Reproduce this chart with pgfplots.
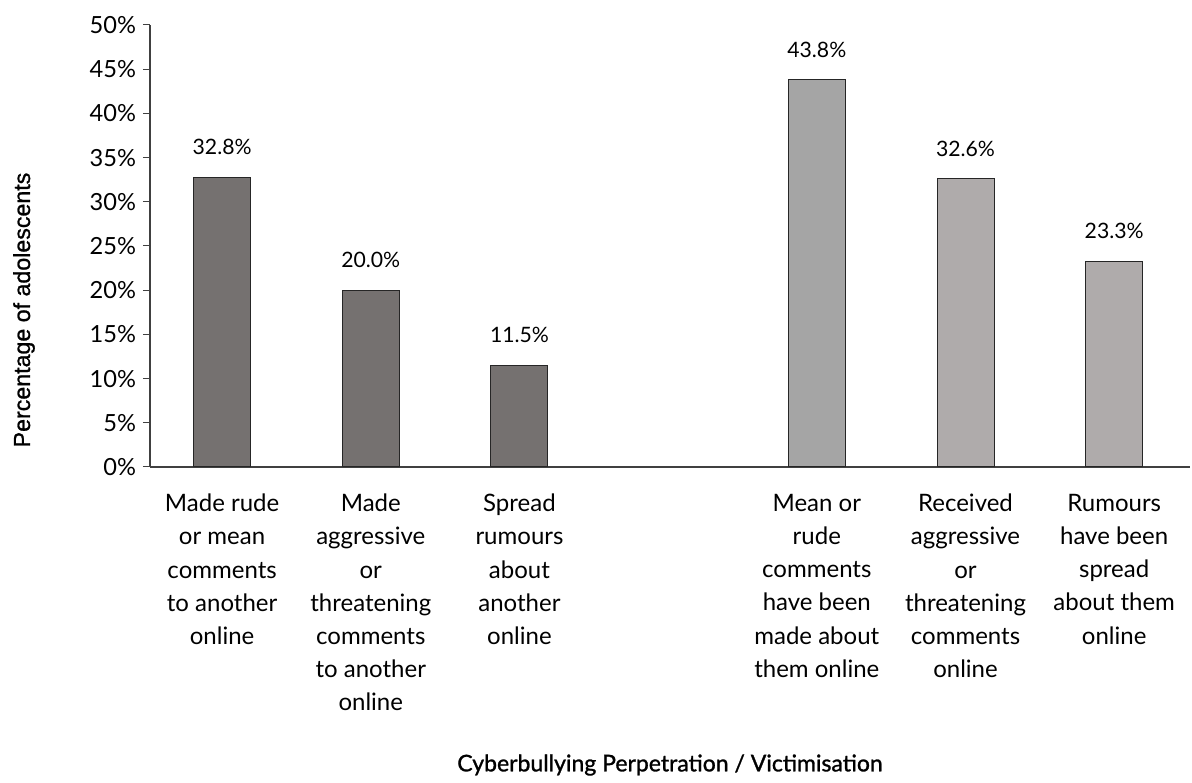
\documentclass[border=0pt]{standalone}
\usepackage{pgfplots}
\pgfplotsset{compat=1.18}
\usepackage{fontspec}
\setmainfont{Lato}
\newfontfamily\medfont{Lato}[FakeBold=1.2]
\newfontfamily\arialfont{Liberation Sans}[FakeBold=1]
\definecolor{darkbar}{HTML}{757170}
\definecolor{midbar}{HTML}{A5A5A5}
\definecolor{lightbar}{HTML}{AFABAB}
\begin{document}
\begin{tikzpicture}
\begin{axis}[
  name=ax,
  scale only axis,
  width=520pt, height=221pt,
  ybar, bar width=28.5pt, bar shift=0pt,
  xmin=-0.485, xmax=6.51,
  ymin=0, ymax=50,
  ytick={0,5,...,50},
  yticklabel={\pgfmathprintnumber{\tick}\%},
  /pgf/number format/assume math mode=true,
  yticklabel style={font=\fontsize{11.8}{13}\selectfont},
  xtick={0,1,2,4,5,6},
  xticklabels={
    {Made rude\\or mean\\comments\\to another\\online},
    {Made\\aggressive\\or\\threatening\\comments\\to another\\online},
    {Spread\\rumours\\about\\another\\online},
    {Mean or\\rude\\comments\\have been\\made about\\them online},
    {Received\\aggressive\\or\\threatening\\comments\\online},
    {Rumours\\have been\\spread\\about them\\online}},
  xticklabel style={align=center, font=\fontsize{12}{16.6}\selectfont, yshift=-6.5pt},
  x tick style={draw=none},
  tick align=outside,
  major tick length=3.5pt,
  y tick style={black!75, line width=0.5pt},
  axis x line*=bottom,
  axis y line*=left,
  axis line style={black!75, line width=0.6pt},
  ylabel={\arialfont Percentage of adolescents},
  ylabel style={at={(axis description cs:0,0.5)}, anchor=center, yshift=63pt, xshift=-32pt, font=\fontsize{11.6}{14}\selectfont},
  xlabel={\medfont Cyberbullying Perpetration / Victimisation},
  xlabel style={at={(axis description cs:0.5,0)}, anchor=center, yshift=-149pt, font=\fontsize{11.5}{13}\selectfont},
  nodes near coords={\pgfmathprintnumber[fixed,fixed zerofill,precision=1]{\pgfplotspointmeta}\%},
  every node near coord/.append style={font=\fontsize{10.6}{12}\selectfont, inner sep=0pt, anchor=south, yshift=11pt, text=black},
  enlarge x limits=false,
]
\addplot[fill=darkbar, draw=black!85, line width=0.5pt] coordinates {(0,32.8) (1,20.0) (2,11.5)};
\addplot[fill=midbar, draw=black!85, line width=0.5pt] coordinates {(4,43.8)};
\addplot[fill=lightbar, draw=black!85, line width=0.5pt] coordinates {(5,32.6) (6,23.3)};
\end{axis}
\path ([shift={(-75pt,-156pt)}]ax.south west) rectangle ([shift={(1pt,12.5pt)}]ax.north east);
\end{tikzpicture}
\end{document}
